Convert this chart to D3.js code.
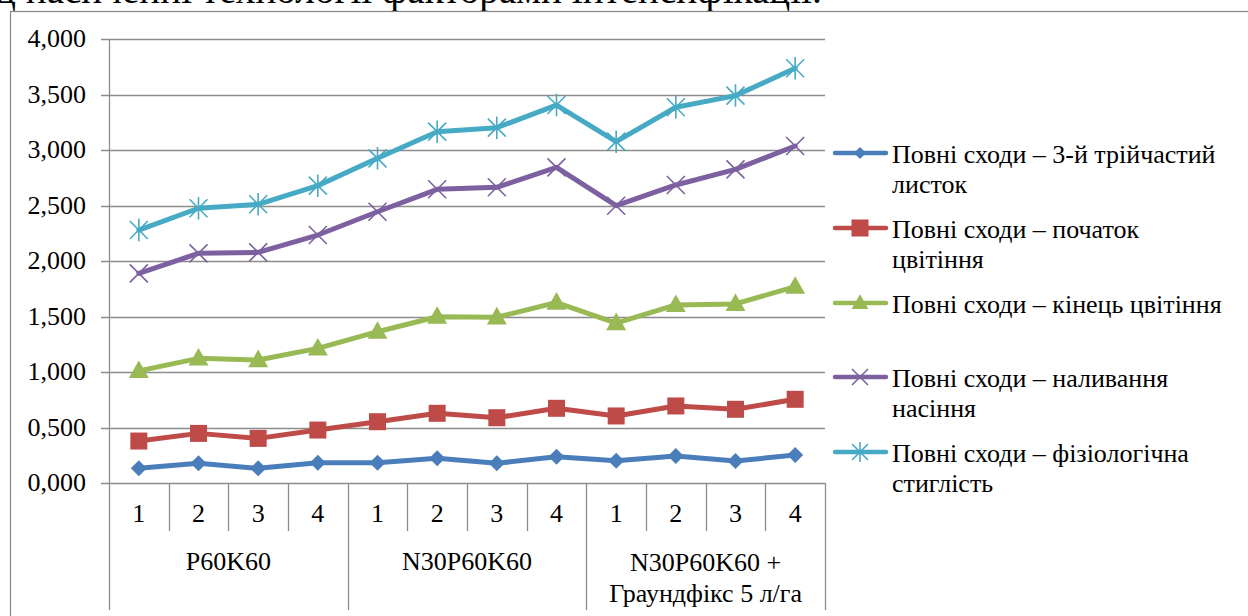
<!DOCTYPE html>
<html><head><meta charset="utf-8">
<script src="https://cdn.jsdelivr.net/npm/d3@7"></script>
<style>
@font-face{font-family:"ChartSerif";src:local("Liberation Serif"),local("LiberationSerif"),local("LiberationSerif-Regular");}
</style>
</head>
<body style="margin:0">
<svg id="c" width="1248" height="616"></svg>
<script>
// ---- data ----
const groups = ["P60K60", "N30P60K60", "N30P60K60 +|Граундфікс 5 л/га"];
const subLabels = ["1", "2", "3", "4"];
const seriesNames = [
  "Повні сходи – 3-й трійчастий|листок",
  "Повні сходи – початок|цвітіння",
  "Повні сходи – кінець цвітіння",
  "Повні сходи – наливання|насіння",
  "Повні сходи – фізіологічна|стиглість"
];
const s1 = [0.132, 0.177, 0.132, 0.183, 0.183, 0.222, 0.177, 0.237, 0.201, 0.243, 0.198, 0.252];
const s2 = [0.378, 0.447, 0.402, 0.477, 0.552, 0.628, 0.588, 0.673, 0.604, 0.694, 0.664, 0.754];
const s3 = [1.010, 1.123, 1.108, 1.213, 1.363, 1.498, 1.493, 1.626, 1.441, 1.604, 1.613, 1.769];
const s4 = [1.889, 2.069, 2.078, 2.234, 2.444, 2.646, 2.664, 2.844, 2.498, 2.685, 2.826, 3.036];
const s5 = [2.279, 2.475, 2.511, 2.679, 2.925, 3.165, 3.201, 3.405, 3.075, 3.385, 3.490, 3.736];
const yTicks = [0, 0.5, 1, 1.5, 2, 2.5, 3, 3.5, 4];
const headerText = "д насиченні технології факторами інтенсифікації.";

const seriesData = [s1, s2, s3, s4, s5];
const colors = ["#4A7EBB", "#BE4B48", "#98B954", "#7D60A0", "#46AAC5"];
const markerTypes = ["diamond", "square", "triangle", "x", "star"];

// ---- layout ----
const FS = 26;
const L = 109, R = 825, T = 39, B = 483;
const svg = d3.select("#c");
const cats = d3.range(groups.length * subLabels.length);
const x = d3.scaleBand().domain(cats).range([L, R]).padding(0);
const cx = i => x(i) + x.bandwidth() / 2;
const y = d3.scaleLinear().domain([0, 4]).range([B, T]);
const fmt = d3.formatLocale({decimal: ",", thousands: " ", grouping: [3], currency: ["", ""]}).format(".3f");
const txt = (sel, size) => sel.append("text").attr("font-size", size || FS)
  .style("font-family", `"Liberation Serif", "ChartSerif", "Tinos", "Times New Roman", serif`);

// header (cropped at top, as in the source)
const hdr = txt(svg, 30).attr("x", -4).attr("y", 3).text(headerText);
const hw = hdr.node().getComputedTextLength();
if (hw > 0) hdr.attr("font-size", 30 * 826 / hw);

// outer border
svg.append("rect").attr("x", 10.5).attr("y", 11.5).attr("width", 1300).attr("height", 700)
  .attr("fill", "none").attr("stroke", "#878787").attr("stroke-width", 1.2);

// gridlines
const gridC = "#8c8c8c";
svg.append("g").selectAll("line").data(yTicks).join("line")
  .attr("x1", L - 8).attr("x2", R).attr("y1", d => Math.round(y(d)) + 0.5).attr("y2", d => Math.round(y(d)) + 0.5)
  .attr("stroke", gridC).attr("stroke-width", 1.3);

// y axis line
svg.append("line").attr("x1", L + 0.5).attr("x2", L + 0.5).attr("y1", T).attr("y2", B).attr("stroke", gridC).attr("stroke-width", 1.3);

// y labels
yTicks.forEach(d => {
  txt(svg).attr("x", 86).attr("y", y(d) + 8).attr("text-anchor", "end").text(fmt(d));
});

// category axis separators
d3.range(cats.length + 1).forEach(k => {
  const xx = (k < cats.length ? x(k) : R);
  const isGroup = k % subLabels.length === 0;
  svg.append("line").attr("x1", Math.round(xx) + 0.5).attr("x2", Math.round(xx) + 0.5)
    .attr("y1", B).attr("y2", isGroup ? 610 : 531).attr("stroke", gridC).attr("stroke-width", 1.3);
});
// sub labels
cats.forEach(d => {
  txt(svg).attr("x", cx(d)).attr("y", 522).attr("text-anchor", "middle")
    .text(subLabels[d % subLabels.length]);
});
// group labels
groups.forEach((g, gi) => {
  const lines = g.split("|");
  const gx = (x(gi * 4) + (gi * 4 + 4 < cats.length ? x(gi * 4 + 4) : R)) / 2;
  const startY = lines.length === 1 ? 570 : 571;
  lines.forEach((ln, li) => {
    txt(svg).attr("x", gx).attr("y", startY + li * 31).attr("text-anchor", "middle").text(ln);
  });
});

// marker drawing
function marker(sel, type, color, s) {
  if (type === "diamond") {
    sel.append("path").attr("d", `M0,${-s}L${s},0L0,${s}L${-s},0Z`).attr("fill", color);
  } else if (type === "square") {
    sel.append("rect").attr("x", -s).attr("y", -s).attr("width", 2 * s).attr("height", 2 * s).attr("fill", color);
  } else if (type === "triangle") {
    sel.append("path").attr("d", `M0,${-s * 1.1}L${s * 1.05},${s * 0.75}L${-s * 1.05},${s * 0.75}Z`).attr("fill", color);
  } else if (type === "x") {
    sel.append("path").attr("d", `M${-s},${-s}L${s},${s}M${-s},${s}L${s},${-s}`)
      .attr("stroke", color).attr("stroke-width", 1.6).attr("fill", "none");
  } else if (type === "star") {
    sel.append("path").attr("d", `M${-s},${-s}L${s},${s}M${-s},${s}L${s},${-s}M0,${-s * 1.25}L0,${s * 1.25}`)
      .attr("stroke", color).attr("stroke-width", 1.6).attr("fill", "none");
  }
}
const markerSize = [8, 8.5, 9.5, 9, 9];

// series
const line = d3.line().x((d, i) => cx(i)).y(d => y(d));
seriesData.forEach((data, si) => {
  svg.append("path").datum(data).attr("d", line).attr("fill", "none")
    .attr("stroke", colors[si]).attr("stroke-width", 5).attr("stroke-linejoin", "round").attr("stroke-linecap", "round");
  data.forEach((v, i) => {
    const g = svg.append("g").attr("transform", `translate(${cx(i)},${y(v)})`);
    marker(g, markerTypes[si], colors[si], markerSize[si]);
  });
});

// legend
const legY = [153, 228, 303, 377, 452];
seriesNames.forEach((nm, si) => {
  const ly = legY[si];
  svg.append("line").attr("x1", 835).attr("x2", 886).attr("y1", ly).attr("y2", ly)
    .attr("stroke", colors[si]).attr("stroke-width", 4.5).attr("stroke-linecap", "round");
  const g = svg.append("g").attr("transform", `translate(860,${ly})`);
  marker(g, markerTypes[si], colors[si], [6, 8.5, 8, 8, 8][si]);
  nm.split("|").forEach((ln, li) => {
    txt(svg).attr("x", 892).attr("y", ly + 10 + li * 30).text(ln);
  });
});
</script></body></html>
